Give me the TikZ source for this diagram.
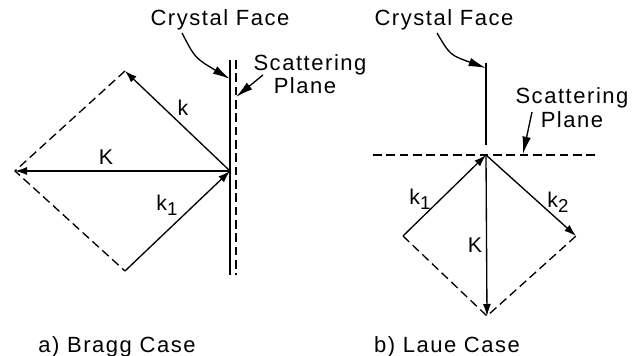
\documentclass[tikz,border=0pt]{standalone}
\usepackage{fontspec}
\setmainfont[LetterSpace=7]{Liberation Sans}
\usetikzlibrary{arrows.meta}

\begin{document}
\begin{tikzpicture}[x=0.75pt,y=-0.75pt,line width=1pt,
    vec/.style={-{Latex[length=9pt,width=6pt]}},
    pointer/.style={-{Latex[length=13pt,width=6.5pt]},line width=1pt},
    dashline/.style={dash pattern=on 6.5pt off 3.5pt},
    lbl/.style={font=\fontsize{16.5}{18}\selectfont,inner sep=0pt},
    vlbl/.style={font=\fontsize{16}{17}\selectfont,inner sep=0pt}]
  \useasboundingbox (0,0) rectangle (633,356);
  % a) Bragg case
  \coordinate (bO) at (230,171);
  \coordinate (bT) at (125,71);
  \coordinate (bL) at (15,171);
  \coordinate (bB) at (125,271);
  \coordinate (bfTop) at (230,60);
  \coordinate (bfBot) at (230,275);
  \coordinate (bpTop) at (236,60);
  \coordinate (bpBot) at (236,275);
  \draw (bfTop) -- (bfBot);
  \draw[dashline] (bpTop) -- (bpBot);
  \draw[dashline] (bT) -- (bL) -- (bB);
  \draw[vec] (bB) -- (bO);
  \draw[vec] (bO) -- (bT);
  \draw[vec] (bO) -- (bL);
  \node[vlbl] (bk) at (183,108) {k};
  \node[vlbl] (bK) at (106,157) {K};
  \node[vlbl] (bk1) at (167,205) {k\raisebox{-4pt}{\fontsize{14}{14}\selectfont 1}};
  \node[lbl] (bface) at (220,20) {Crystal Face};
  \node[lbl] (bscat) at (310,65) {Scattering};
  \node[lbl] (bplane) at (305,86) {Plane};
  \coordinate (bfs) at (182,33);
  \coordinate (bft) at (230,79);
  \coordinate (bps) at (263,75);
  \coordinate (bpt) at (236,97);
  \draw[pointer] (bfs) .. controls (195,58) .. (bft);
  \draw[pointer] (bps) -- (bpt);
  \node[lbl] (bcap) at (117,347) {a) Bragg Case};
  % b) Laue case
  \coordinate (lO) at (486,155);
  \coordinate (lL) at (403,236);
  \coordinate (lR) at (576,236);
  \coordinate (lB) at (487,316);
  \coordinate (lfTop) at (486,63);
  \coordinate (lfBot) at (486,145);
  \coordinate (lpL) at (373,155);
  \coordinate (lpR) at (598,155);
  \draw (lfTop) -- (lfBot);
  \draw[dashline] (lpL) -- (lpR);
  \draw[dashline] (lL) -- (lB) -- (lR);
  \draw[vec] (lL) -- (lO);
  \draw[vec] (lO) -- (lR);
  \draw[vec] (lO) -- (lB);
  \node[vlbl] (lk1) at (420,199) {k\raisebox{-4pt}{\fontsize{14}{14}\selectfont 1}};
  \node[vlbl] (lk2) at (558,202) {k\raisebox{-4pt}{\fontsize{14}{14}\selectfont 2}};
  \node[vlbl] (lK) at (475,245) {K};
  \node[lbl] (lface) at (444,20) {Crystal Face};
  \node[lbl] (lscat) at (572,98) {Scattering};
  \node[lbl] (lplane) at (572,120) {Plane};
  \coordinate (lfs) at (437,33);
  \coordinate (lft) at (486,68);
  \coordinate (lps) at (532,112);
  \coordinate (lpt) at (523,154);
  \draw[pointer] (lfs) .. controls (450,55) .. (lft);
  \draw[pointer] (lps) -- (lpt);
  \node[lbl] (lcap) at (447,347) {b) Laue Case};
\end{tikzpicture}
\end{document}
